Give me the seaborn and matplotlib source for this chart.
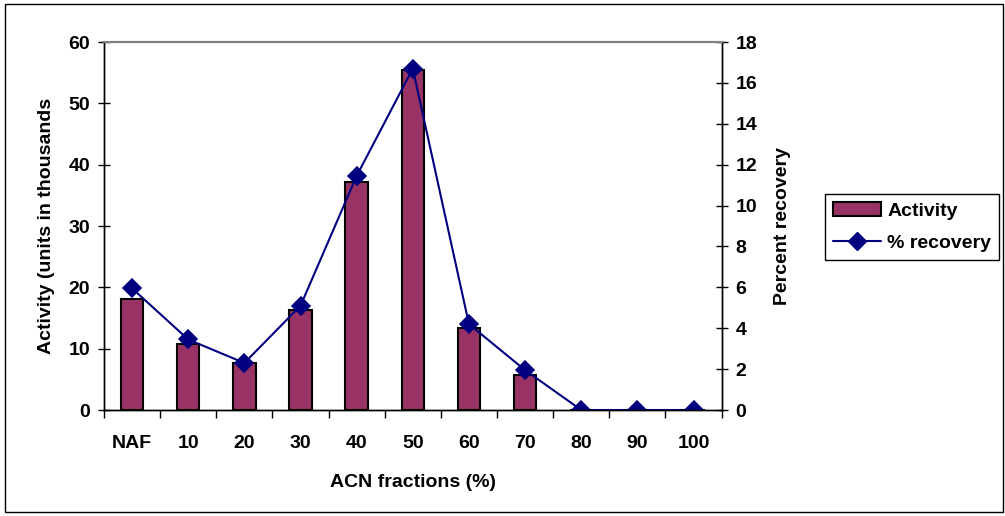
import pandas as pd
import seaborn as sns
import matplotlib.pyplot as plt
from matplotlib.patches import Rectangle
from matplotlib.lines import Line2D

# Wartości
fractions = ["NAF", "10", "20", "30", "40", "50", "60", "70", "80", "90", "100"]
activity = [18.1, 10.8, 7.6, 16.3, 37.1, 55.4, 13.3, 5.7, 0, 0, 0]
recovery = [5.95, 3.45, 2.3, 5.1, 11.45, 16.7, 4.2, 1.95, 0, 0, 0]

bar_color = "#993366"
line_color = "#000080"
fs = 14

sns.set_style("white")
plt.rcParams['font.family'] = ['Liberation Sans', 'DejaVu Sans']
plt.rcParams['font.weight'] = 'bold'
plt.rcParams['text.color'] = 'black'
plt.rcParams['xtick.color'] = 'black'
plt.rcParams['ytick.color'] = 'black'
plt.rcParams['axes.labelcolor'] = 'black'

data = pd.DataFrame({"fraction": fractions, "activity": activity, "recovery": recovery})

fig = plt.figure(figsize=(10.05, 5.16), dpi=100)
ax = fig.add_axes([0.1035, 0.2054, 0.6145, 0.7132])

sns.barplot(data=data, x="fraction", y="activity", order=fractions, color=bar_color,
            width=0.4, edgecolor="black", linewidth=1.5, saturation=1, ax=ax)

ax2 = ax.twinx()
sns.pointplot(data=data, x="fraction", y="recovery", order=fractions, color=line_color,
              markers="D", markersize=9, linewidth=1.5, ax=ax2)

ax.set_xlim(-0.5, 10.5)
ax.set_ylim(0, 60)
ax2.set_ylim(0, 18)
ax.set_yticks(range(0, 61, 10))
ax2.set_yticks(range(0, 19, 2))

# Podziałki na granicach kategorii
ax.set_xticks([i - 0.5 for i in range(12)], minor=True)
ax.tick_params(axis='x', which='major', length=0, pad=18, labelsize=fs)
ax.tick_params(axis='x', which='minor', length=6, width=1, direction='out', bottom=True)
ax.tick_params(axis='y', length=8, width=1, direction='inout', left=True, labelsize=fs, pad=6)
ax2.tick_params(axis='y', length=8, width=1, direction='inout', right=True, labelsize=fs, pad=6)

ax.set_xlabel("ACN fractions (%)", fontsize=fs, fontweight='bold', labelpad=16)
ax.set_ylabel("Activity (units in thousands", fontsize=fs, fontweight='bold', labelpad=10)
ax2.set_ylabel("Percent recovery", fontsize=fs, fontweight='bold', labelpad=12)

for a in (ax, ax2):
    for side in ("left", "right", "bottom"):
        a.spines[side].set_color("black")
        a.spines[side].set_linewidth(1)
    a.spines["top"].set_color("#808080")
    a.spines["top"].set_linewidth(1.5)

# Legenda poza obszarem wykresu
handles = [
    Rectangle((0, 0), 1, 1, facecolor=bar_color, edgecolor="black", linewidth=1.5),
    Line2D([], [], color=line_color, marker="D", markersize=9, linewidth=1.5),
]
fig.legend(handles, ["Activity", "% recovery"], loc="center left",
           bbox_to_anchor=(0.821, 0.56), frameon=True, fancybox=False,
           framealpha=1, edgecolor="black", borderpad=0.4, handlelength=2.5,
           handletextpad=0.3, labelspacing=0.75, borderaxespad=0,
           prop={'weight': 'bold', 'size': fs})

# Ramka wokół całego rysunku
fig.patches.append(Rectangle((0.005, 0.008), 0.993, 0.985, transform=fig.transFigure,
                             fill=False, edgecolor="black", linewidth=1))

fig.savefig("out.png", dpi=100)
